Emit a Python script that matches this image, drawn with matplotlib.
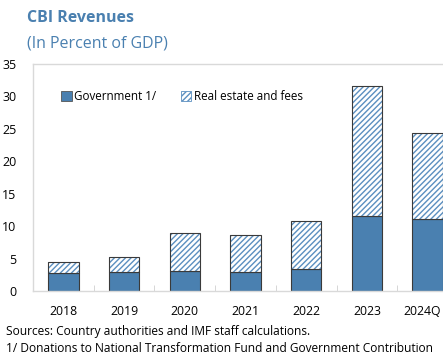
import matplotlib
matplotlib.use("Agg")
import matplotlib.pyplot as plt
import matplotlib.transforms as mtransforms
import numpy as np
from matplotlib.patches import Patch

categories = ["2018", "2019", "2020", "2021", "2022", "2023", "2024Q"]
government = [2.8, 2.9, 3.1, 3.0, 3.4, 11.6, 11.1]
real_estate = [1.7, 2.3, 5.8, 5.6, 7.4, 20.0, 13.3]
yticks = [0, 5, 10, 15, 20, 25, 30, 35]

plt.rcParams['font.family'] = ['Open Sans', 'DejaVu Sans']
plt.rcParams['hatch.linewidth'] = 1.0

W, H = 443, 354
fig = plt.figure(figsize=(W/100, H/100), dpi=100)
left, right = 33, 458
top, bottom = 64, 291
ax = fig.add_axes([left/W, 1 - bottom/H, (right-left)/W, (bottom-top)/H])

blue = '#4a80b0'
hatch_blue = '#5b8fc0'
edge = '#3a3a3a'
x = np.arange(len(categories))
ax.bar(x, government, width=0.5, color=blue, edgecolor=edge, linewidth=0.8, label='Government 1/')
# hatch layer (hatch color follows edgecolor)
ax.bar(x, real_estate, width=0.5, bottom=government, facecolor='white', edgecolor=hatch_blue,
       linewidth=0, hatch='//////')
# outline layer
ax.bar(x, real_estate, width=0.5, bottom=government, facecolor='none', edgecolor=edge,
       linewidth=0.8)

ax.set_xlim(-0.5, len(categories) - 0.5)
ax.set_ylim(0, 35)
ax.set_yticks(yticks)
ax.set_xticks(x)
ax.set_xticklabels(categories)
ax.set_xticks(np.arange(len(categories) + 1) - 0.5, minor=True)
ax.tick_params(axis='x', which='major', length=0, pad=10, labelsize=8.8, colors='black')
ax.tick_params(axis='x', which='minor', length=4, direction='in', color='#d0d0d0')
ax.tick_params(axis='y', length=0, pad=12, labelsize=9)
for s in ax.spines.values():
    s.set_color('#d9d9d9')
    s.set_linewidth(1.0)

# keep last tick label inside the canvas, as in the reference
last = ax.get_xticklabels()[-1]
last.set_transform(last.get_transform() + mtransforms.ScaledTranslation(-6/100, 0, fig.dpi_scale_trans))

handles = [Patch(facecolor=blue, edgecolor='#555555', linewidth=0.6, label='Government 1/'),
           Patch(facecolor='white', edgecolor=hatch_blue, linewidth=0.6, hatch='//////',
                 label='Real estate and fees')]
leg = ax.legend(handles=handles, loc='upper left', bbox_to_anchor=(0.056, 0.905), ncol=2,
                frameon=False, fontsize=8.4, handlelength=0.9, handleheight=0.9,
                handletextpad=0.2, columnspacing=2.1, borderaxespad=0)

title_color = '#4a80b0'
fig.text(27/W, 1 - 18/H, 'CBI Revenues', fontsize=11.5, fontweight='bold', color=title_color, va='center')
fig.text(27/W, 1 - 44/H, '(In Percent of GDP)', fontsize=11.5, color=title_color, va='center')
fig.text(6/W, 1 - 331/H, 'Sources: Country authorities and IMF staff calculations.', fontsize=8.6, va='center')
fig.text(6/W, 1 - 348/H, '1/ Donations to National Transformation Fund and Government Contribution', fontsize=8.6, va='center')

fig.savefig('out.png', dpi=100)
